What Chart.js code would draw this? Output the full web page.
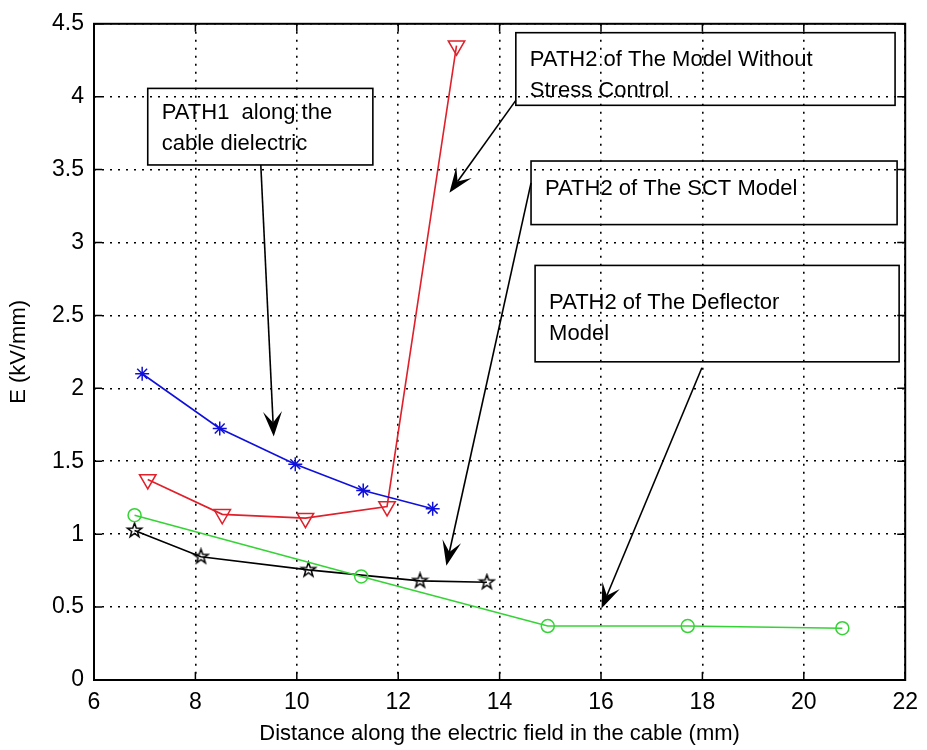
<!DOCTYPE html>
<html>
<head>
<meta charset="utf-8">
<script src="https://cdn.jsdelivr.net/npm/chart.js@4"></script>
<style>
  html, body { margin: 0; padding: 0; background: #fff; }
  #wrap { width: 927px; height: 750px; }
</style>
</head>
<body>
<div id="wrap"><canvas id="c" width="927" height="750"></canvas></div>
<script>
// values
const blueX  = [6.95, 8.48, 9.97, 11.31, 12.68];
const blueY  = [2.10, 1.725, 1.48, 1.30, 1.175];
const redX   = [7.06, 8.53, 10.17, 11.78, 13.15];
const redY   = [1.375, 1.136, 1.11, 1.19, 4.35];
const greenX = [6.80, 11.27, 14.95, 17.71, 20.76];
const greenY = [1.13, 0.71, 0.37, 0.37, 0.355];
const blackX = [6.80, 8.11, 10.23, 12.43, 13.75];
const blackY = [1.025, 0.845, 0.755, 0.68, 0.67];

const xLabel = 'Distance along the electric field in the cable (mm)';
const yLabel = 'E (kV/mm)';

// annotation boxes and arrows, in data units
const notes = [
  { x0: 7.06,  y0: 4.057, x1: 11.50, y1: 3.532, first: 31, lines: ['PATH1  along the', 'cable dielectric'] },
  { x0: 14.32, y0: 4.439, x1: 21.80, y1: 3.941, first: 33, lines: ['PATH2 of The Model Without', 'Stress Control'] },
  { x0: 14.62, y0: 3.559, x1: 21.84, y1: 3.123, first: 34, lines: ['PATH2 of The SCT Model'] },
  { x0: 14.70, y0: 2.843, x1: 21.88, y1: 2.182, first: 44, lines: ['PATH2 of The Deflector', 'Model'] },
];
const arrows = [
  { from: [9.29, 3.532],  to: [9.545, 1.67] },
  { from: [14.32, 3.975], to: [13.01, 3.341] },
  { from: [14.62, 3.409], to: [12.95, 0.784] },
  { from: [17.99, 2.141], to: [16.01, 0.491] },
];

const FONT = "'Liberation Sans', Arial, sans-serif";

const pts = (xs, ys) => xs.map((x, k) => ({ x, y: ys[k] }));

function pentagram(r) {
  const s = Math.ceil(r * 2 + 4);
  const cv = document.createElement('canvas');
  cv.width = s; cv.height = s;
  const g = cv.getContext('2d');
  g.translate(s / 2, s / 2);
  g.beginPath();
  for (let k = 0; k < 10; k++) {
    const rr = k % 2 ? r * 0.4 : r;
    const a = -Math.PI / 2 + k * Math.PI / 5;
    const px = rr * Math.cos(a), py = rr * Math.sin(a);
    k ? g.lineTo(px, py) : g.moveTo(px, py);
  }
  g.closePath();
  g.strokeStyle = '#000';
  g.lineWidth = 1.5;
  g.stroke();
  return cv;
}

function makeDataset(label, color, xs, ys, style) {
  return Object.assign({
    label,
    data: pts(xs, ys),
    borderColor: color,
    backgroundColor: 'rgba(0,0,0,0)',
    pointBorderColor: color,
    pointBackgroundColor: 'rgba(0,0,0,0)',
    borderWidth: 1.6,
    pointBorderWidth: 1.5,
    tension: 0,
    fill: false,
  }, style);
}

const frame = {
  id: 'frame',
  beforeDatasetsDraw(chart) {
    // inward tick marks on all four sides
    const { ctx, chartArea: a, scales: { x, y } } = chart;
    ctx.save();
    ctx.strokeStyle = '#000';
    ctx.lineWidth = 1.5;
    ctx.beginPath();
    x.ticks.forEach(t => {
      const px = x.getPixelForValue(t.value);
      ctx.moveTo(px, a.bottom); ctx.lineTo(px, a.bottom - 8);
      ctx.moveTo(px, a.top);    ctx.lineTo(px, a.top + 8);
    });
    y.ticks.forEach(t => {
      const py = y.getPixelForValue(t.value);
      ctx.moveTo(a.left, py);  ctx.lineTo(a.left + 8, py);
      ctx.moveTo(a.right, py); ctx.lineTo(a.right - 8, py);
    });
    ctx.stroke();
    ctx.lineWidth = 2;
    ctx.strokeRect(a.left, a.top, a.right - a.left, a.bottom - a.top);
    ctx.restore();
  },
  afterDatasetsDraw(chart) {
    const { ctx, scales: { x, y } } = chart;
    ctx.save();
    ctx.strokeStyle = '#000';
    ctx.fillStyle = '#000';
    ctx.lineWidth = 1.6;
    ctx.font = '22px ' + FONT;
    ctx.textBaseline = 'alphabetic';
    notes.forEach(n => {
      const l = x.getPixelForValue(n.x0), r = x.getPixelForValue(n.x1);
      const t = y.getPixelForValue(n.y0), b = y.getPixelForValue(n.y1);
      ctx.strokeRect(l, t, r - l, b - t);
      n.lines.forEach((s, k) => ctx.fillText(s, l + 14, t + n.first + k * 31));
    });
    arrows.forEach(ar => {
      const x0 = x.getPixelForValue(ar.from[0]), y0 = y.getPixelForValue(ar.from[1]);
      const x1 = x.getPixelForValue(ar.to[0]),   y1 = y.getPixelForValue(ar.to[1]);
      const ang = Math.atan2(y1 - y0, x1 - x0);
      const ux = Math.cos(ang), uy = Math.sin(ang);
      const L = 25, W = 9.5, N = 14;
      ctx.beginPath();
      ctx.moveTo(x0, y0);
      ctx.lineTo(x1 - ux * N, y1 - uy * N);
      ctx.stroke();
      ctx.beginPath();
      ctx.moveTo(x1, y1);
      ctx.lineTo(x1 - ux * L - uy * W, y1 - uy * L + ux * W);
      ctx.lineTo(x1 - ux * N, y1 - uy * N);
      ctx.lineTo(x1 - ux * L + uy * W, y1 - uy * L - ux * W);
      ctx.closePath();
      ctx.fill();
    });
    ctx.restore();
  }
};

const grid = {
  color: '#000',
  lineWidth: 1.6,
  drawTicks: false,
};

new Chart(document.getElementById('c'), {
  type: 'line',
  data: {
    datasets: [
      makeDataset('PATH1', '#1010dd', blueX, blueY, { pointStyle: 'star', pointRadius: 7 }),
      makeDataset('Without stress control', '#e0202a', redX, redY, { pointStyle: 'triangle', rotation: 180, pointRadius: 9.5 }),
      makeDataset('Deflector', '#36d336', greenX, greenY, { pointStyle: 'circle', pointRadius: 6.5 }),
      makeDataset('SCT', '#000000', blackX, blackY, { pointStyle: pentagram(7.5), pointRadius: 7.5 }),
    ]
  },
  options: {
    responsive: false,
    animation: false,
    devicePixelRatio: 1,
    layout: { padding: { top: 20, right: 16, left: 0, bottom: 0 } },
    plugins: { legend: { display: false }, tooltip: { enabled: false } },
    scales: {
      x: {
        type: 'linear', min: 6, max: 22,
        ticks: { stepSize: 2, color: '#000', padding: 9, font: { family: FONT, size: 23 }, maxRotation: 0,
                 callback: v => String(v) },
        grid: grid,
        border: { display: false, dash: [2, 6] },
        title: { display: true, text: xLabel, color: '#000', font: { family: FONT, size: 22 }, padding: { top: 0, bottom: 3 } },
        afterFit: s => { s.height = 70; },
      },
      y: {
        type: 'linear', min: 0, max: 4.5,
        ticks: { stepSize: 0.5, color: '#000', padding: 10, font: { family: FONT, size: 23 },
                 callback: v => String(Math.round(v * 10) / 10) },
        grid: grid,
        border: { display: false, dash: [2, 6] },
        title: { display: true, text: yLabel, color: '#000', font: { family: FONT, size: 22 }, padding: { top: 6, bottom: 4 } },
        afterFit: s => { s.width = 94; },
      }
    }
  },
  plugins: [frame],
});
</script>
</body>
</html>
